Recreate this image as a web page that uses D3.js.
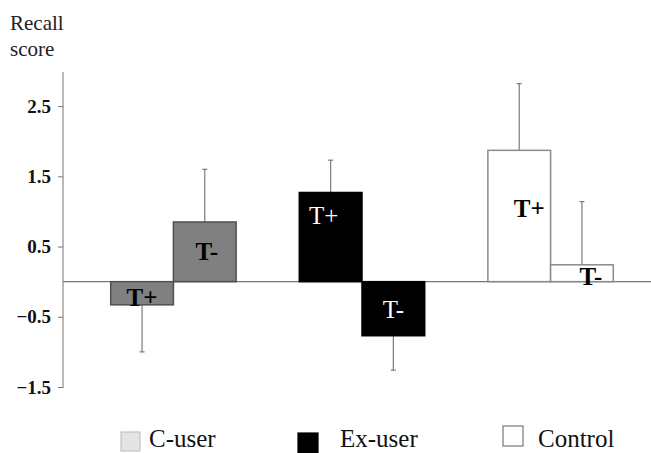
<!DOCTYPE html>
<html>
<head>
<meta charset="utf-8">
<script src="https://cdn.jsdelivr.net/npm/d3@7"></script>
<style>
  body { margin: 0; background: #fff; }
  svg { display: block; }
  svg text { font-family: "Liberation Serif", "DejaVu Serif", serif; }
</style>
</head>
<body>
<svg id="chart" width="651" height="453"></svg>
<script>
// groups and conditions
let groups = ["C-user", "Ex-user", "Control"];
let conditions = ["T+", "T-"];

// mean recall score per group, in condition order (T+, T-)
let cUserMeans = [-0.33, 0.85];
let exUserMeans = [1.27, -0.77];
let controlMeans = [1.87, 0.24];

// error bar length (one side only)
let cUserErr = [0.67, 0.75];
let exUserErr = [0.46, 0.49];
let controlErr = [0.95, 0.90];

let yTicks = [2.5, 1.5, 0.5, -0.5, -1.5];

let serif = "Liberation Serif";
let svg = d3.select("#chart");

let y = d3.scaleLinear().domain([-1.5, 3]).range([387, 71]);
let x = d3.scaleBand().domain(groups).range([63, 661])
    .paddingInner(0.335).paddingOuter(0.253);
let xIn = d3.scaleBand().domain(conditions).range([0, x.bandwidth()]);

let fills = { "C-user": "#808080", "Ex-user": "#000", "Control": "#fff" };
let strokes = { "C-user": "#505050", "Ex-user": "#000", "Control": "#8a8a8a" };
let legendFills = { "C-user": "#e4e4e4", "Ex-user": "#000", "Control": "#fff" };
let legendStrokes = { "C-user": "#c4c4c4", "Ex-user": "#000", "Control": "#777" };

let rows = [];
let means = [cUserMeans, exUserMeans, controlMeans];
let errs = [cUserErr, exUserErr, controlErr];
groups.forEach(function (g, gi) {
    conditions.forEach(function (c, ci) {
        rows.push({ group: g, cond: c, value: means[gi][ci], err: errs[gi][ci] });
    });
});

// label placement tweaks, pixel offsets from bar centre and baseline
// (the original labels are hand placed inside the bars)
let labelLayout = {
    "C-user|T+": { dx: 0, base: function (d) { return y(d.value) + 1; } },
    "C-user|T-": { dx: 2, base: function (d) { return y(d.value) + 38; } },
    "Ex-user|T+": { dx: -7, base: function (d) { return y(d.value) + 32; } },
    "Ex-user|T-": { dx: 0, base: function (d) { return y(d.value) - 18; } },
    "Control|T+": { dx: 10, base: function (d) { return y(d.value) + 67; } },
    "Control|T-": { dx: 9, base: function (d) { return y(0) + 3; } }
};

// y axis
let axisColor = "#777";
let yAxis = d3.axisLeft(y).tickValues(yTicks).tickSize(5).tickFormat(d3.format(".1f"));
let yG = svg.append("g").attr("transform", "translate(63,0)").call(yAxis)
    .attr("font-family", serif);
yG.select(".domain").remove();
yG.selectAll(".tick line").attr("stroke", axisColor);
yG.selectAll(".tick text")
    .attr("x", -12)
    .attr("font-family", serif)
    .attr("font-weight", "bold")
    .attr("font-size", 19)
    .attr("fill", "#111");
svg.append("line")
    .attr("x1", 63).attr("x2", 63)
    .attr("y1", y(3) + 1).attr("y2", y(-1.5) + 1)
    .attr("stroke", axisColor);

// title
svg.append("text").attr("x", 10).attr("y", 30).attr("font-family", serif)
    .attr("font-size", 21).attr("fill", "#222").text("Recall");
svg.append("text").attr("x", 10).attr("y", 56).attr("font-family", serif)
    .attr("font-size", 21).attr("fill", "#222").text("score");

// error bars (drawn outward from the bar end)
let bx = function (d) { return x(d.group) + xIn(d.cond); };
let cx = function (d) { return bx(d) + xIn.bandwidth() / 2; };
let errEnd = function (d) { return d.value >= 0 ? d.value + d.err : d.value - d.err; };

let eb = svg.append("g").selectAll("g").data(rows).join("g");
eb.append("line")
    .attr("x1", cx).attr("x2", cx)
    .attr("y1", function (d) { return y(d.value); })
    .attr("y2", function (d) { return y(errEnd(d)); })
    .attr("stroke", "#7a7a7a").attr("stroke-width", 1.2);
eb.append("line")
    .attr("x1", function (d) { return cx(d) - 2.5; })
    .attr("x2", function (d) { return cx(d) + 2.5; })
    .attr("y1", function (d) { return y(errEnd(d)); })
    .attr("y2", function (d) { return y(errEnd(d)); })
    .attr("stroke", "#7a7a7a").attr("stroke-width", 1.2);

// zero line
svg.append("line")
    .attr("x1", 63).attr("x2", 651)
    .attr("y1", y(0)).attr("y2", y(0))
    .attr("stroke", axisColor).attr("stroke-width", 1.2);

// bars
svg.append("g").selectAll("rect").data(rows).join("rect")
    .attr("x", bx)
    .attr("width", xIn.bandwidth())
    .attr("y", function (d) { return y(Math.max(0, d.value)); })
    .attr("height", function (d) { return Math.abs(y(d.value) - y(0)); })
    .attr("fill", function (d) { return fills[d.group]; })
    .attr("stroke", function (d) { return strokes[d.group]; })
    .attr("stroke-width", 1.5);

// labels
svg.append("g").selectAll("text").data(rows).join("text")
    .attr("x", function (d) { return cx(d) + labelLayout[d.group + "|" + d.cond].dx; })
    .attr("y", function (d) { return labelLayout[d.group + "|" + d.cond].base(d); })
    .attr("text-anchor", "middle")
    .attr("font-family", serif)
    .attr("font-size", 25)
    .attr("font-weight", function (d) { return d.group === "Ex-user" ? "normal" : "bold"; })
    .attr("fill", function (d) { return d.group === "Ex-user" ? "#fff" : "#000"; })
    .text(function (d) { return d.cond; });

// legend
let legendPos = [
    { sx: 121, sy: 432, size: 19, tx: 149 },
    { sx: 298, sy: 433, size: 20, tx: 340 },
    { sx: 503, sy: 426, size: 20, tx: 538 }
];
let lg = svg.append("g").selectAll("g").data(groups).join("g");
lg.append("rect")
    .attr("x", function (d, i) { return legendPos[i].sx; })
    .attr("y", function (d, i) { return legendPos[i].sy; })
    .attr("width", function (d, i) { return legendPos[i].size; })
    .attr("height", function (d, i) { return legendPos[i].size; })
    .attr("fill", function (d) { return legendFills[d]; })
    .attr("stroke", function (d) { return legendStrokes[d]; })
    .attr("stroke-width", 1.2);
lg.append("text")
    .attr("x", function (d, i) { return legendPos[i].tx; })
    .attr("y", 447)
    .attr("font-family", serif)
    .attr("font-size", 25)
    .attr("fill", "#111")
    .text(function (d) { return d; });
</script>
</body>
</html>
